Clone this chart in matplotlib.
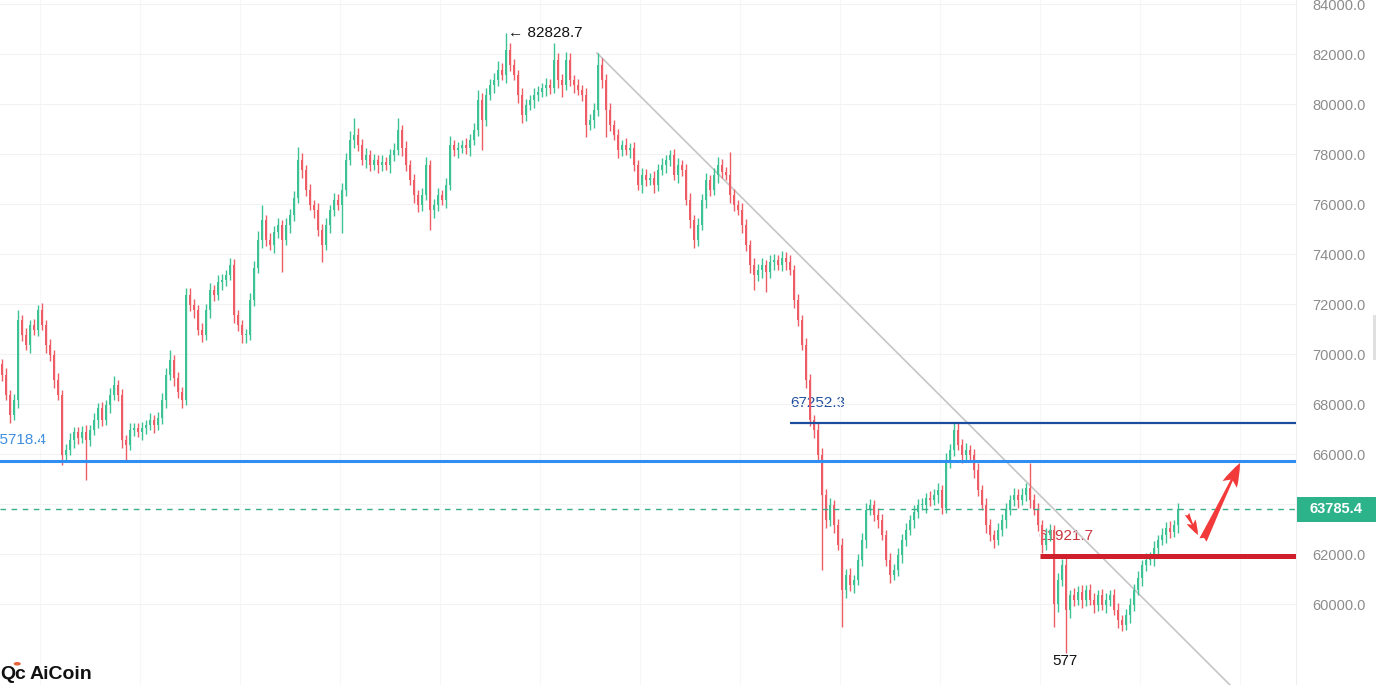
import numpy as np
import matplotlib.pyplot as plt
from matplotlib.patches import Rectangle, Circle

plt.rcParams['font.family'] = ['Liberation Sans', 'DejaVu Sans']

# candle closes, in thousands (open = previous close)
first_open = 69.6
closes = [
    69.16, 68.36, 67.56, 68.16, 71.36, 70.76, 70.36, 71.16, 70.96, 71.76, 71.16, 70.36, 69.96, 68.96, 68.36,
    65.96, 66.16, 66.56, 66.88, 66.64, 66.88, 66.56, 66.96, 67.36, 67.84, 67.36, 67.96, 68.36, 68.76, 68.36,
    66.56, 66.36, 66.96, 67.04, 66.88, 67.04, 67.16, 67.36, 67.16, 67.44, 68.16, 69.16, 69.76, 69.04, 68.48,
    68.16, 72.36, 71.96, 71.76, 70.96, 70.76, 71.76, 72.56, 72.36, 72.88, 72.96, 73.16, 73.56, 71.56, 71.16,
    70.76, 70.76, 72.16, 73.44, 74.56, 75.36, 74.56, 74.36, 74.88, 75.16, 74.56, 75.16, 75.56, 76.24, 77.76,
    77.36, 76.56, 75.96, 75.76, 74.96, 74.36, 75.16, 75.76, 76.16, 75.96, 76.56, 77.76, 78.56, 78.76, 78.36,
    77.76, 77.96, 77.56, 77.76, 77.56, 77.68, 77.56, 77.96, 78.16, 78.96, 78.24, 77.56, 76.96, 76.36, 75.96,
    76.36, 77.56, 75.76, 75.96, 76.36, 76.16, 76.76, 78.36, 78.16, 78.24, 78.36, 78.24, 78.56, 78.96, 80.16,
    79.36, 80.36, 80.76, 80.96, 81.36, 81.16, 82.16, 81.56, 81.16, 80.36, 79.56, 79.96, 80.16, 80.36, 80.48,
    80.64, 80.76, 80.64, 81.76, 80.96, 80.76, 81.76, 80.96, 80.76, 80.56, 80.36, 79.16, 79.36, 79.76, 81.56,
    80.96, 79.76, 79.16, 78.76, 78.16, 78.36, 78.16, 78.24, 77.56, 76.76, 77.16, 76.96, 77.04, 76.76, 77.36,
    77.56, 77.76, 77.96, 77.16, 77.56, 77.36, 76.16, 75.36, 74.56, 75.16, 76.16, 76.96, 76.56, 77.16, 77.56,
    77.28, 77.16, 76.36, 75.96, 75.76, 75.16, 74.36, 73.56, 73.16, 73.36, 73.56, 73.28, 73.68, 73.76, 73.56,
    73.84, 73.68, 73.36, 72.16, 71.36, 70.36, 68.96, 67.36, 66.96, 65.96, 64.36, 63.36, 63.96, 63.16, 62.36,
    60.56, 61.16, 60.76, 60.96, 61.76, 62.56, 63.76, 63.96, 63.56, 63.36, 62.76, 61.76, 61.16, 61.36, 61.96,
    62.56, 62.96, 63.36, 63.68, 63.96, 63.96, 64.24, 64.16, 64.36, 64.56, 63.84, 65.76, 66.16, 66.96, 66.36,
    65.96, 66.16, 65.96, 65.36, 64.56, 63.96, 63.16, 62.76, 62.56, 62.96, 63.36, 63.76, 64.16, 64.36, 64.16,
    64.36, 64.64, 64.16, 63.76, 63.16, 62.36, 62.76, 62.96, 60.00, 60.96, 61.56, 59.76, 60.36, 60.16, 60.48,
    60.16, 60.56, 60.16, 59.96, 60.36, 59.96, 60.16, 60.36, 59.76, 59.36, 59.16, 59.56, 59.96, 60.56, 61.04,
    61.56, 61.76, 61.84, 62.24, 62.56, 62.76, 63.04, 62.88, 63.16, 63.7854,
]

# wick lengths above / below the body, in thousands
up_wick = [
    .2, .3, .2, .25, .4, .2, .3, .2, .25, .2, .3, .2, .25, .2, .3,
    .2, .25, .3, .2, .2, .25, .3, .2, .3, .2, .25, .2, .3, .35, .2,
    .25, .2, .3, .2, .2, .25, .2, .3, .2, .25, .3, .3, .4, .2, .25,
    .2, .3, .3, .25, .2, .3, .25, .3, .2, .3, .25, .2, .3, .25, .2,
    .2, .25, .3, .3, .35, .6, .2, .3, .25, .3, .2, .3, .25, .3, .52,
    .3, .2, .25, .2, .3, .25, .3, .2, .3, .25, .3, .3, .35, .68, .3,
    .25, .3, .2, .25, .2, .3, .2, .25, .3, .48, .2, .3, .2, .25, .2,
    .3, .32, .2, .25, .3, .2, .3, .35, .2, .25, .2, .3, .25, .3, .4,
    .3, .3, .25, .3, .35, .3, .67, .3, .25, .2, .3, .25, .2, .3, .25,
    .2, .3, .25, .68, .3, .25, .32, .3, .2, .25, .2, .3, .25, .3, .48,
    .3, .25, .3, .2, .25, .2, .3, .2, .25, .2, .3, .25, .2, .3, .25,
    .3, .2, .2, .25, .3, .2, .25, .3, .2, .3, .25, .3, .2, .3, .32,
    .25, .2, .92, .25, .2, .3, .25, .2, .3, .25, .3, .2, .3, .25, .2,
    .3, .25, .3, .2, .25, .2, .3, .25, .2, .3, .3, .25, .3, .2, .25,
    .3, .25, .3, .2, .25, .3, .3, .25, .2, .3, .25, .2, .3, .25, .3,
    .25, .3, .2, .3, .25, .3, .2, .3, .25, .3, .2, .3, .25, .28, .3,
    .25, .3, .2, .25, .3, .2, .3, .25, .2, .3, .25, .3, .2, .3, .25,
    .3, .2, 1.0, .25, .3, .2, .3, .25, .2, .3, .25, .3, .2, .3, .25,
    .3, .2, .25, .3, .2, .25, .3, .2, .25, .3, .2, .25, .3, .25, .3,
    .2, .3, .25, .3, .2, .3, .25, .3, .2, .25,
]
down_wick = [
    .25, .2, .32, .2, .3, .25, .2, .3, .2, .25, .2, .3, .25, .3, .2,
    .4, .25, .2, .3, .25, .2, 1.6, .25, .2, .3, .25, .2, .3, .2, .25,
    .3, .6, .2, .25, .2, .3, .25, .2, .3, .2, .25, .3, .2, .3, .25,
    .3, .2, .25, .3, .2, .28, .2, .3, .25, .2, .3, .25, .2, .3, .25,
    .3, .3, .2, .25, .2, .3, .25, .2, .3, .25, 1.28, .2, .3, .25, .2,
    .3, .25, .2, .3, .25, .68, .2, .3, .25, .2, 1.12, .25, .2, .3, .25,
    .2, .3, .25, .2, .3, .25, .2, .3, .25, .2, .3, .25, .2, .3, .28,
    .25, .2, .8, .3, .25, .2, .3, .2, .25, .3, .2, .25, .3, .2, .25,
    1.2, .25, .2, .3, .25, .2, .3, .25, .2, .3, .32, .25, .2, .3, .25,
    .2, .3, .25, .2, .3, .48, .2, .25, .3, .2, .25, .48, .2, .3, .25,
    .3, 1.08, .25, .2, .3, .25, .2, .3, .25, .2, .3, .25, .2, .3, .25,
    .2, .3, .25, .2, .3, .25, .2, .3, .32, .25, .2, .3, .25, .2, .3,
    .25, .2, .3, .25, .2, .3, .25, .3, .6, .25, .3, .8, .25, .3, .2,
    .25, .3, .2, .3, .25, .2, .3, .25, .3, .2, 3.0, .3, .25, .3, .2,
    1.48, .3, .25, .3, .2, .25, .3, .2, .25, .3, .2, .25, .3, .2, .25,
    .3, .25, .2, .3, .25, .2, .3, .25, .2, .3, .25, .2, .3, .25, .2,
    .3, .25, .2, .3, .25, .2, .3, .25, .3, .2, .25, .3, .2, .25, .3,
    .2, .25, .3, .2, .25, .3, .2, .25, .92, .3, .25, 1.72, .3, .25, .2,
    .3, .25, .2, .3, .25, .2, .3, .25, .2, .3, .25, .2, .3, .25, .2,
    .3, .25, .2, .3, .25, .2, .3, .25, .2, .3,
]

# levels and drawings
level_blue = 65718.4
level_navy = 67252.3
level_red = 61921.7
last_price = 63785.4
peak_high = 82828.7
peak_idx = 126
low_idx = 266
navy_from = 197
red_from = 259.5
trend_line = [(148.75, 82040), (307, 56760)]
arrow_small = [(296.25, 63600), (299.0, 62760)]
arrow_big = [(300.25, 62560), (309.5, 65640)]
y_ticks = list(range(60000, 84001, 2000))

GREEN = '#3cc293'
RED = '#ee5c66'

c = np.array(closes) * 1000
o = np.concatenate([[first_open * 1000], c[:-1]])
hi = np.maximum(o, c) + np.array(up_wick) * 1000
lo = np.minimum(o, c) - np.array(down_wick) * 1000
idx = np.arange(len(c))
cols = np.where(c >= o, GREEN, RED)

fig = plt.figure(figsize=(13.76, 6.85), dpi=100)
ax = fig.add_axes([0, 0, 1296 / 1376, 1])
ax.set_xlim(-0.5, 323.5)
ax.set_ylim(56760, 84160)

# grid and price axis (the 64000 label sits under the last-price tag)
ax.set_yticks(y_ticks)
ax.set_yticklabels(['' if v == 64000 else f'{v:.1f}' for v in y_ticks])
ax.set_xticks([(x - 2) / 4 for x in range(40, 1296, 100)])
ax.set_xticklabels([])
ax.grid(True, axis='y', color='#f2f2f2', lw=0.8, zorder=0)
ax.grid(True, axis='x', color='#f7f7f7', lw=0.8, zorder=0)
ax.yaxis.tick_right()
ax.tick_params(axis='both', length=0)
ax.tick_params(axis='y', pad=12, labelcolor='#8c8c8c', labelsize=10.5)
for side in ['top', 'left', 'bottom']:
    ax.spines[side].set_visible(False)
ax.spines['right'].set_color('#eeeeee')

# level labels (under candles)
ax.annotate(f'{level_blue:.1f}', xy=(0, level_blue), xycoords=('axes fraction', 'data'),
            xytext=(-9, 21), textcoords='offset pixels', ha='left', va='center',
            color='#3d8fe0', fontsize=11, zorder=1)
ax.annotate(f'{level_navy:.1f}', xy=(navy_from, level_navy), xytext=(0, 20),
            textcoords='offset pixels', ha='left', va='center', color='#1f4f9c', fontsize=11, zorder=1)
ax.annotate(f'{level_red:.1f}', xy=(red_from, level_red), xytext=(-2, 20),
            textcoords='offset pixels', ha='left', va='center', color='#c8343e', fontsize=11, zorder=1)

# trend line
ax.plot([p[0] for p in trend_line], [p[1] for p in trend_line], color='#c6c6c6', lw=1.2, zorder=2)

# candles
ax.vlines(idx, lo, hi, colors=cols, lw=1.0, zorder=3)
ax.bar(idx, np.maximum(np.abs(c - o), 30), bottom=np.minimum(o, c), width=0.55,
       color=cols, linewidth=0, zorder=3)

# horizontal levels
ax.axhline(level_blue, color='#2f8ff0', lw=2.2, zorder=4)
ax.hlines(level_navy, navy_from, 323.5, color='#1c4c9e', lw=1.6, zorder=4)
ax.hlines(level_red, red_from, 323.5, color='#cf1f2c', lw=3.6, zorder=4)
ax.axhline(last_price, color='#3aae8a', lw=1.0, ls=(0, (4, 4)), zorder=4)

# red arrows
for (a, b), ms in [(arrow_small, 12), (arrow_big, 19)]:
    ax.annotate('', xy=b, xytext=a,
                arrowprops=dict(arrowstyle='fancy,head_length=0.9,head_width=0.6,tail_width=0.3',
                                color='#f23a3a', lw=0, shrinkA=0, shrinkB=0, mutation_scale=ms),
                zorder=5)

# peak / low annotations
ax.annotate(f'\u2190 {peak_high:.1f}', xy=(peak_idx, peak_high), xytext=(2, 0),
            textcoords='offset pixels', ha='left', va='center', color='#111111', fontsize=11, zorder=6)
ax.annotate('577', xy=(low_idx, lo[low_idx]), xytext=(-14, -8),
            textcoords='offset pixels', ha='left', va='center', color='#111111', fontsize=11, zorder=6)

# last price tag
ytr = ax.get_yaxis_transform()
ax.add_patch(Rectangle((1.0008, last_price - 500), 0.07, 1000, transform=ytr,
                       facecolor='#2db38a', edgecolor='none', clip_on=False, zorder=6))
ax.text(1.0105, last_price, f'{last_price:.1f}', transform=ytr, ha='left', va='center',
        color='white', fontsize=10.5, fontweight='bold', clip_on=False, zorder=7)

# logo
fig.text(0.0, 0.016, 'Q', fontsize=14, fontweight='bold', color='#111111', ha='left', va='center')
fig.text(0.0105, 0.016, 'c', fontsize=14, fontweight='bold', color='#111111', ha='left', va='center')
fig.patches.append(Circle((0.0125, 0.031), 0.0026, transform=fig.transFigure,
                          facecolor='#e8643a', edgecolor='none'))
fig.text(0.0218, 0.016, 'AiCoin', fontsize=14, fontweight='bold', color='#111111',
         ha='left', va='center')

# scrollbar hint at right edge
fig.patches.append(Rectangle((1373 / 1376, 325 / 685), 3 / 1376, 45 / 685,
                             transform=fig.transFigure, facecolor='#e0e0e0', edgecolor='none'))

fig.savefig('out.png', dpi=100)
